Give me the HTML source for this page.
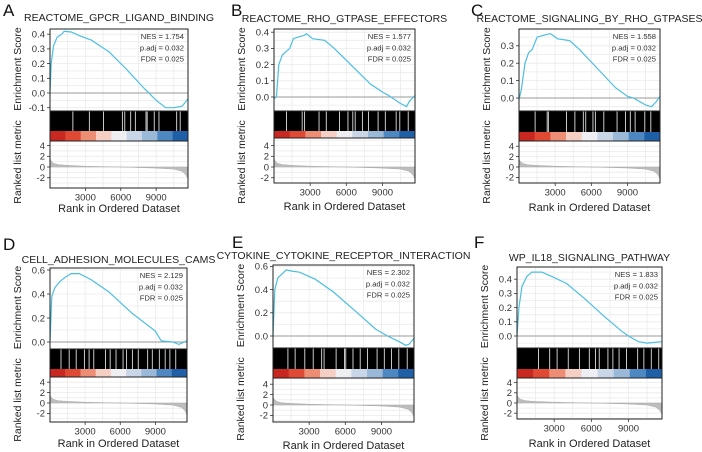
<!DOCTYPE html>
<html><head><meta charset="utf-8">
<style>
html,body{margin:0;padding:0;background:#fff;}
svg{display:block;font-family:"Liberation Sans",sans-serif;}
</style></head>
<body>
<svg id="fig" width="702" height="452" viewBox="0 0 702 452"></svg>
<script>
// ---- data ----
const maxRank = 11700;
const xTicks = [3000, 6000, 9000];
const titles = ["REACTOME_GPCR_LIGAND_BINDING","REACTOME_RHO_GTPASE_EFFECTORS","REACTOME_SIGNALING_BY_RHO_GTPASES","CELL_ADHESION_MOLECULES_CAMS","CYTOKINE_CYTOKINE_RECEPTOR_INTERACTION","WP_IL18_SIGNALING_PATHWAY"];
const letters = ["A","B","C","D","E","F"];
const nesValues = ["1.754","1.577","1.558","2.129","2.302","1.833"];
const padjValues = ["0.032","0.032","0.032","0.032","0.032","0.032"];
const fdrValues = ["0.025","0.025","0.025","0.025","0.025","0.025"];
const esTicksA = [-0.1,0,0.1,0.2,0.3,0.4];
const esTicksB = [0,0.1,0.2,0.3,0.4];
const esTicksC = [0,0.1,0.2,0.3];
const esTicksD = [0,0.2,0.4,0.6];
const esTicksE = [0,0.2,0.4,0.6];
const esTicksF = [0,0.1,0.2,0.3,0.4];
const metricTicks = [4,2,0,-2];
const esRankA = [0,100,300,600,1000,1200,1800,2500,3500,5000,6500,8000,9000,9800,10500,11200,11700];
const esValA  = [0,0.2,0.32,0.38,0.4,0.42,0.415,0.39,0.36,0.28,0.16,0.03,-0.05,-0.1,-0.1,-0.09,-0.04];
const esRankB = [0,200,400,700,1000,1300,1600,2000,2500,2700,3200,4200,5000,6500,8000,9000,9500,10500,11000,11200,11700];
const esValB  = [-0.01,0,0.2,0.26,0.28,0.3,0.36,0.37,0.38,0.39,0.36,0.35,0.3,0.19,0.08,0.03,0.01,-0.04,-0.06,-0.03,0.01];
const esRankC = [0,200,500,800,1100,1500,2000,2600,3200,4200,5000,6500,8000,9000,9500,10500,11000,11400,11700];
const esValC  = [-0.01,0.05,0.2,0.26,0.28,0.35,0.36,0.37,0.34,0.33,0.28,0.17,0.06,0.01,0,-0.04,-0.05,-0.02,0.01];
const esRankD = [0,150,400,800,1300,1800,2500,3500,5000,7000,9000,9500,10500,11000,11700];
const esValD  = [0,0.38,0.45,0.5,0.54,0.57,0.57,0.52,0.42,0.24,0.09,0.01,0,-0.02,0.01];
const esRankE = [0,150,400,800,1100,1500,2200,3500,5000,7000,8500,9500,10500,11000,11300,11700];
const esValE  = [0,0.4,0.5,0.54,0.57,0.56,0.55,0.49,0.38,0.2,0.06,0,-0.05,-0.08,-0.07,-0.02];
const esRankF = [0,150,400,800,1200,2000,2800,4000,5500,7000,8500,9000,9800,10500,11700];
const esValF  = [0,0.2,0.35,0.42,0.45,0.45,0.42,0.37,0.26,0.14,0.03,0,-0.04,-0.05,-0.04];
const gapRanksA = [1900,3300,4500,6100,6300,6800,7200,8100,8200,8800,9200,10700,11000];
const gapRanksB = [1000,2300,2500,3700,4300,5400,6100,6500,6700,7300,7800,8600,9200,10100,10400,11100];
const gapRanksC = [1300,2300,2400,3900,4600,5300,5500,6100,6300,7000,8100,8800,9200,9600,10400,10900];
const gapRanksD = [900,1600,2200,2900,3300,3700,4700,5100,5600,6200,6500,7000,7500,8300,8700,9300,9800,10200,10700];
const gapRanksE = [1200,1800,2600,3300,4000,4200,5200,5900,6000,6600,7200,7800,8600,9200,9800,10400,11100];
const gapRanksF = [1700,2600,3200,4100,5000,5800,6300,6600,7300,7700,8200,8800,9700,10200,10800,11400];
const bandColors = ["#c8281f","#e04a35","#ec8d74","#f5cfc3","#eeeef3","#c9d6e8","#9ab9d8","#4d88c3","#1f5fa8"];
const metricRank = [0,100,300,700,1500,3000,6000,9000,10500,11200,11500,11700];
const metricVal  = [1.6,1.1,0.7,0.45,0.3,0.15,0,-0.2,-0.4,-0.8,-1.4,-2.2];

// ---- layout ----
const panels = [
 {px0:50,px1:188,esTop:29,esBot:111,colorTop:131,barBot:141,metBot:188,esZero:93,esUnit:147,metZero:167,metUnit:5.35,xLabY:212,titleY:21,letterX:3,letterY:16,ticks:esTicksA,rank:esRankA,val:esValA,gaps:gapRanksA},
 {px0:274,px1:415,esTop:29,esBot:111,colorTop:131,barBot:138,metBot:183,esZero:97,esUnit:162,metZero:167,metUnit:5.35,xLabY:210,titleY:22,letterX:231,letterY:16,ticks:esTicksB,rank:esRankB,val:esValB,gaps:gapRanksB},
 {px0:519,px1:660,esTop:29,esBot:111,colorTop:132,barBot:141,metBot:183,esZero:98,esUnit:174,metZero:167,metUnit:5.2,xLabY:211,titleY:22,letterX:471,letterY:16,ticks:esTicksC,rank:esRankC,val:esValC,gaps:gapRanksC},
 {px0:50,px1:187,esTop:268,esBot:349,colorTop:369,barBot:377,metBot:422,esZero:342,esUnit:120,metZero:403,metUnit:5.2,xLabY:447,titleY:263,letterX:3,letterY:250,ticks:esTicksD,rank:esRankD,val:esValD,gaps:gapRanksD},
 {px0:273,px1:414,esTop:265,esBot:348,colorTop:369,barBot:378,metBot:422,esZero:336,esUnit:116,metZero:405,metUnit:5.2,xLabY:449,titleY:259,letterX:232,letterY:248,ticks:esTicksE,rank:esRankE,val:esValE,gaps:gapRanksE},
 {px0:517,px1:662,esTop:267,esBot:348,colorTop:369,barBot:378,metBot:419,esZero:336,esUnit:142,metZero:403,metUnit:5.1,xLabY:447,titleY:261,letterX:474,letterY:248,ticks:esTicksF,rank:esRankF,val:esValF,gaps:gapRanksF}
];
const NS="http://www.w3.org/2000/svg";
const svg=document.getElementById('fig');
function mk(tag,attrs,parent,text){const e=document.createElementNS(NS,tag);for(const k in attrs)e.setAttribute(k,attrs[k]);if(text!==undefined)e.textContent=text;(parent||svg).appendChild(e);return e;}

panels.forEach((p,i)=>{
  const g=mk('g',{});
  
  
  const xs=r=>p.px0+(r/maxRank)*(p.px1-p.px0);
  const ys=v=>p.esZero-v*p.esUnit;
  const ym=v=>p.metZero-v*p.metUnit;
  const w=p.px1-p.px0;
  let t=mk('text',{x:p.letterX,y:p.letterY,'font-size':17,fill:'#111'},g,letters[i]);
  
  
  const grid=mk('g',{stroke:'#ebebeb','stroke-width':0.8},g);
  for(let r=1500;r<maxRank;r+=1500){mk('line',{x1:xs(r),x2:xs(r),y1:p.esTop,y2:p.esBot},grid);mk('line',{x1:xs(r),x2:xs(r),y1:p.barBot,y2:p.metBot},grid);}
  const step=p.ticks[1]-p.ticks[0];
  for(let v=p.ticks[0]-step/2;v<=p.ticks[p.ticks.length-1]+step;v+=step/2){const y=ys(v);if(y>p.esTop&&y<p.esBot)mk('line',{x1:p.px0,x2:p.px1,y1:y,y2:y},grid);}
  for(let v=-3;v<=5;v+=1){const y=ym(v);if(y>p.barBot&&y<p.metBot)mk('line',{x1:p.px0,x2:p.px1,y1:y,y2:y},grid);}
  mk('line',{x1:p.px0,x2:p.px1,y1:ys(0),y2:ys(0),stroke:'#999','stroke-width':1},g);
  let d=p.rank.map((r,k)=>(k?'L':'M')+xs(r).toFixed(1)+','+ys(p.val[k]).toFixed(1)).join('');
  const es=mk('path',{d:d,fill:'none',stroke:'#4bbfe0','stroke-width':1.2},g);
  
  
  p.ticks.forEach(v=>{const y=ys(v);
    mk('line',{x1:p.px0-3,x2:p.px0,y1:y,y2:y,stroke:'#333','stroke-width':0.8},g);
    const tl=mk('text',{x:p.px0-5,y:y+3.3,'font-size':9.5,'text-anchor':'end',fill:'#333'},g,v.toFixed(1));
    
    });
  [['NES = ',nesValues[i]],['p.adj = ',padjValues[i]],['FDR = ',fdrValues[i]]].forEach((s,k)=>{
    const st=mk('text',{x:p.px1-4,y:p.esTop+10+k*11.3,'font-size':7.6,'text-anchor':'end',fill:'#333'},g,s[0]+s[1]);
    
    });
  const bc=mk('rect',{x:p.px0,y:p.esBot,width:w,height:p.colorTop-p.esBot,fill:'#000'},g);
  
  
  p.gaps.forEach(r=>{mk('rect',{x:xs(r),y:p.esBot,width:0.9,height:p.colorTop-p.esBot,fill:'#ddd'},g);});
  const n=bandColors.length;
  bandColors.forEach((c,k)=>{const b=mk('rect',{x:xs(k*maxRank/n),y:p.colorTop,width:w/n+0.5,height:p.barBot-p.colorTop,fill:c},g);
    
    });
  d='M'+xs(0)+','+ym(0)+metricRank.map((r,k)=>'L'+xs(r).toFixed(1)+','+ym(metricVal[k]).toFixed(1)).join('')+'L'+xs(maxRank)+','+ym(0)+'Z';
  const ma=mk('path',{d:d,fill:'#bdbdbd',stroke:'#aaa','stroke-width':0.5},g);
  
  
  metricTicks.forEach(v=>{const y=ym(v);
    mk('line',{x1:p.px0-3,x2:p.px0,y1:y,y2:y,stroke:'#333','stroke-width':0.8},g);
    const tl=mk('text',{x:p.px0-5,y:y+3.3,'font-size':9.5,'text-anchor':'end',fill:'#333'},g,String(v));
    
    });
  [[p.esTop,p.esBot],[p.esBot,p.barBot],[p.barBot,p.metBot]].forEach(f=>mk('rect',{x:p.px0,y:f[0],width:w,height:f[1]-f[0],fill:'none',stroke:'#222','stroke-width':1},g));
  xTicks.forEach(r=>{const x=xs(r);
    mk('line',{x1:x,x2:x,y1:p.metBot,y2:p.metBot+3,stroke:'#333','stroke-width':0.8},g);
    const tl=mk('text',{x:x,y:p.metBot+12.5,'font-size':9.5,'text-anchor':'middle',fill:'#333'},g,String(r));
    
    });
  t=mk('text',{x:(p.px0+p.px1)/2,y:p.titleY,'font-size':10.5,'text-anchor':'middle',fill:'#222'},g,titles[i]);
  
  
  t=mk('text',{x:(p.px0+p.px1)/2,y:p.xLabY,'font-size':11,'text-anchor':'middle',fill:'#222'},g,'Rank in Ordered Dataset');
  
  
  let cy=(p.esTop+p.esBot)/2-1, cx=p.px0-29;
  t=mk('text',{x:cx,y:cy,'font-size':10.5,'text-anchor':'middle',fill:'#222',transform:`rotate(-90 ${cx} ${cy})`},g,'Enrichment Score');
  
  
  cy=p.esBot+51; cx=p.px0-29;
  t=mk('text',{x:cx,y:cy,'font-size':10.5,'text-anchor':'middle',fill:'#222',transform:`rotate(-90 ${cx} ${cy})`},g,'Ranked list metric');
  
  
});
</script>
</body></html>
